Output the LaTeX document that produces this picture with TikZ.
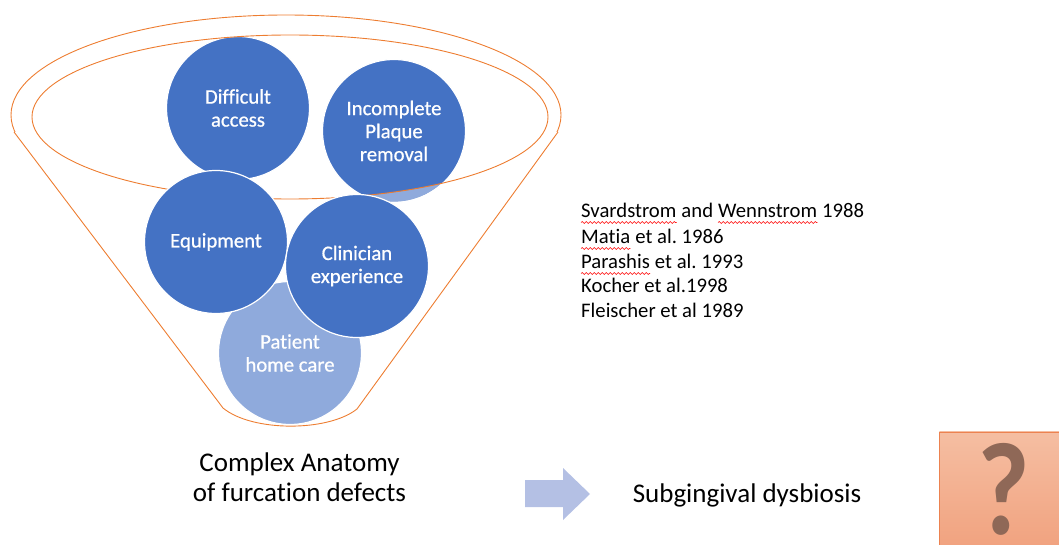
\documentclass[tikz,border=0pt]{standalone}
\usepackage{fontspec}
\setmainfont{Carlito}[Ligatures=NoCommon]
\newfontfamily\ballfont{Carlito}[Ligatures=NoCommon, FakeBold=0.7]
\frenchspacing
\usetikzlibrary{decorations.pathmorphing}
\definecolor{fdark}{RGB}{68,114,196}
\definecolor{flight}{RGB}{143,170,220}
\definecolor{forange}{RGB}{237,125,49}
\definecolor{farrow}{RGB}{180,192,228}
\definecolor{qtop}{RGB}{245,190,162}
\definecolor{qbot}{RGB}{241,163,128}
\definecolor{qmark}{RGB}{143,104,87}
\definecolor{qedge}{RGB}{236,130,80}
\begin{document}
\begin{tikzpicture}[x=1bp,y=-1bp,
  funnel/.style={draw=forange, line width=0.9bp},
  ball/.style={circle, minimum size=143bp, inner sep=0pt, draw=white, line width=1.2bp, fill=fdark},
  lightball/.style={ball, fill=flight},
  balltext/.style={text=white, align=center, inner sep=0pt, font=\ballfont\fontsize{20.7bp}{23bp}\selectfont},
  ref/.style={anchor=base west, inner sep=0pt, font=\fontsize{20.7bp}{25bp}\selectfont},
  squig/.style={draw=red, line width=0.6bp, decorate, decoration={snake, amplitude=0.9bp, segment length=4bp}},
  big/.style={align=center, anchor=base, inner sep=0pt, font=\fontsize{27bp}{29.5bp}\selectfont}
]
\useasboundingbox (0,0) rectangle (1059,545);
% funnel outline
\coordinate (fl) at (14,132);
\coordinate (fr) at (558,132);
\coordinate (bl) at (223,408);
\coordinate (br) at (357,409);
\begin{scope}
  \clip (0,0) rectangle (1059,132);
  \draw[funnel] (286,115) ellipse [x radius=275, y radius=100];
\end{scope}
\draw[funnel] (fl) -- (bl) .. controls (252,432) and (328,432) .. (br) -- (fr);
% circles
\node[lightball] (patient) at (290,353) {};
\node[ball] (difficult) at (238,108) {};
\node[lightball] (incomplete) at (394,131) {};
\begin{scope}
  \clip (290,117) ellipse [x radius=258, y radius=82];
  \fill[fdark] (incomplete.center) circle [radius=71.5bp];
\end{scope}
\draw[white, line width=1.2bp] (incomplete.center) circle [radius=71.5bp];
\draw[funnel] (290,117) ellipse [x radius=258, y radius=82];
\node[ball] (equipment) at (216,242) {};
\node[ball] (clinician) at (357,266) {};
% circle labels
\node[balltext] (tpatient) at (patient) {Patient\\home care};
\node[balltext] (tdifficult) at (difficult) {Difficult\\access};
\node[balltext] (tincomplete) at (incomplete) {Incomplete\\Plaque\\removal};
\node[balltext] (tequipment) at (equipment) {Equipment};
\node[balltext] (tclinician) at (clinician) {Clinician\\experience};
% references
\node[ref] (s1) at (581,218) {Svardstrom};
\node[ref] (s2) at (s1.base east) {\ and\ \null};
\node[ref] (s3) at (s2.base east) {Wennstrom};
\node[ref] (s4) at (s3.base east) {\ 1988};
\node[ref] (m1) at (581,244) {Matia};
\node[ref] (m2) at (m1.base east) {\ et al. 1986};
\node[ref] (p1) at (581,269) {Parashis};
\node[ref] (p2) at (p1.base east) {\ et al. 1993};
\node[ref] (k1) at (581,293) {Kocher et al.1998};
\node[ref] (f1) at (581,318) {Fleischer et al 1989};
\foreach \w in {s1,s3,m1,p1}{
  \draw[squig] ([yshift=-4.5bp]\w.base west) -- ([yshift=-4.5bp]\w.base east);
}
% bottom row
\node[big] (anatomy) at (299.5,501) {Complex Anatomy\\of furcation defects};
\fill[farrow] (525,480) -- (563,480) -- (563,468) -- (590,494) -- (563,520) -- (563,507) -- (525,507) -- cycle;
\node[big] (dysbiosis) at (747,502) {Subgingival dysbiosis};
\node[draw=qedge, line width=0.8bp, top color=qtop, bottom color=qbot, minimum width=120bp, minimum height=113bp, anchor=north west, inner sep=0pt] (qbox) at (939,431.5) {};
\node[anchor=base, inner sep=0pt, text=qmark, xscale=0.86, font=\fontsize{132bp}{134bp}\selectfont\bfseries] (qmark) at (1004,534) {?};
\end{tikzpicture}
\end{document}
